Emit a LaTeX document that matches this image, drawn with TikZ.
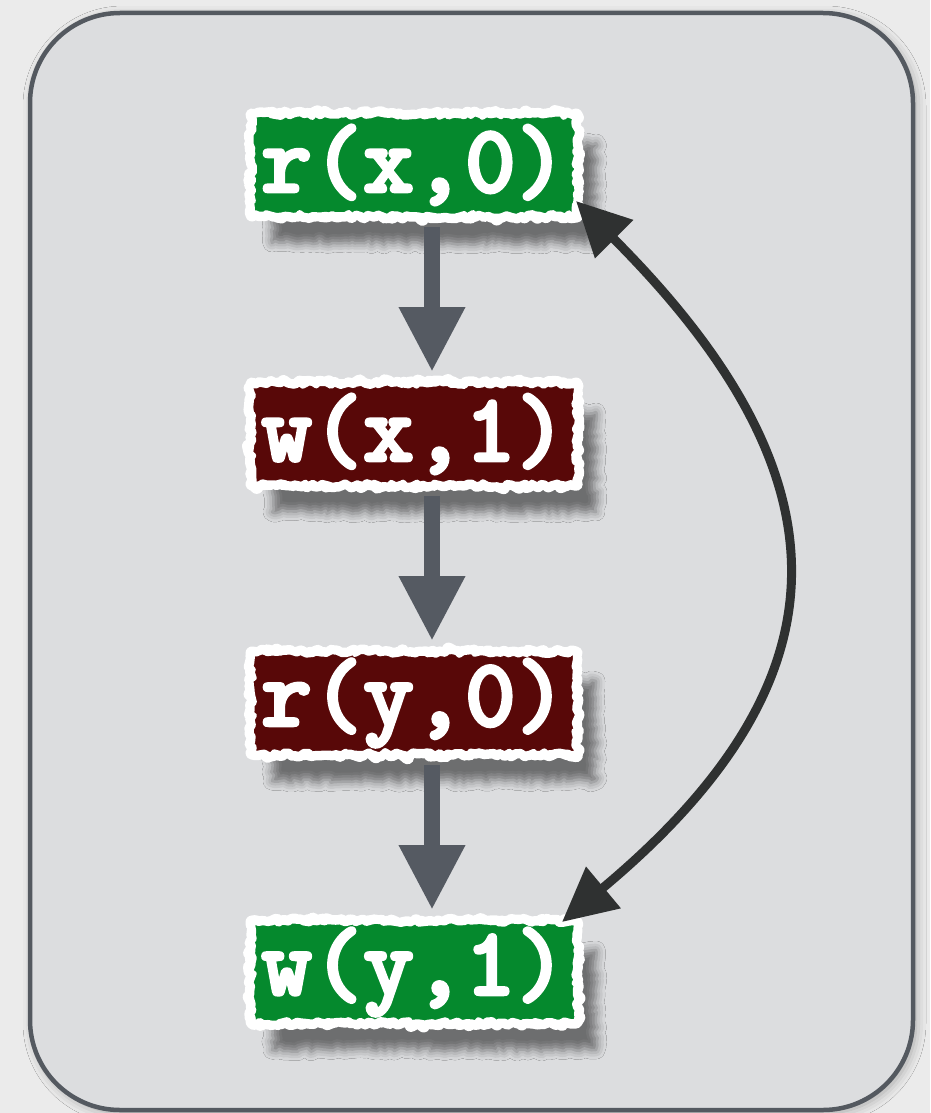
\documentclass[tikz,border=0pt]{standalone}
\usepackage{fontspec}
\newfontfamily\opfont{lmmonolt10-bold}[Extension=.otf, FakeBold=3]
\usetikzlibrary{arrows.meta, positioning, decorations.pathmorphing, shadows.blur}
\definecolor{PageBg}   {RGB}{235,235,235}
\definecolor{PanelFill}{RGB}{220,221,223}
\definecolor{PanelLine}{RGB}{84,89,96}
\definecolor{OpGreen}  {RGB}{5,137,45}
\definecolor{OpRed}    {RGB}{88,8,8}
\definecolor{FlowGray} {RGB}{85,90,98}
\definecolor{LinkDark} {RGB}{47,49,49}
\tikzset{
  % torn paper label for one memory operation
  op/.style={
    rectangle, minimum width=324pt, minimum height=100pt,
    inner sep=0pt, outer sep=0pt,
    text=white, font=\opfont\fontsize{97}{97}\selectfont,
    draw=white, line width=6pt, line join=round,
    decorate, decoration={random steps, segment length=4pt, amplitude=2pt},
    blur shadow={shadow xshift=20pt, shadow yshift=-28pt,
                 shadow blur radius=9pt, shadow opacity=50},
    % ragged white rim around the paper
    preaction={draw=white, line width=13pt, line join=round, decorate,
               decoration={random steps, segment length=3pt, amplitude=3pt}}
  },
  opOk/.style ={op, fill=OpGreen},
  opBad/.style={op, fill=OpRed},
  % program order
  flow/.style={-{Triangle[width=62pt, length=65pt]}, line width=16pt,
               draw=FlowGray, shorten <=12pt, shorten >=12pt},
  % conflict between the two accesses
  link/.style={{Triangle[width=52pt, length=54pt]}-{Triangle[width=52pt, length=54pt]},
               line width=9pt, draw=LinkDark}
}

\begin{document}
\begin{tikzpicture}[x=1pt, y=1pt, node distance=169pt]

  \fill[PageBg] (0,0) rectangle (930,-1113);
  \useasboundingbox (0,0) rectangle (930,-1113);

  %% panel
  \path[draw=PanelLine, fill=PanelFill, line width=4.5pt, rounded corners=90pt,
        blur shadow={shadow xshift=3pt, shadow yshift=-3pt,
                     shadow blur radius=10pt, shadow opacity=30}]
    (30,-13) rectangle (913,-1110);

  %% operations, top to bottom
  \node[opOk]  (rx) at (414,-165) {r(x,0)};
  \node[opBad, below=of rx] (wx) {w(x,1)};
  \node[opBad, below=of wx] (ry) {r(y,0)};
  \node[opOk,  below=of ry] (wy) {w(y,1)};

  \draw[flow] ([xshift=18pt]rx.south) -- ([xshift=18pt]wx.north);
  \draw[flow] ([xshift=18pt]wx.south) -- ([xshift=18pt]ry.north);
  \draw[flow] ([xshift=18pt]ry.south) -- ([xshift=18pt]wy.north);

  \draw[link] ([yshift=14pt]rx.south east)
    .. controls +(278,-278) and +(290,242) .. ([xshift=-14pt]wy.north east);

\end{tikzpicture}
\end{document}
